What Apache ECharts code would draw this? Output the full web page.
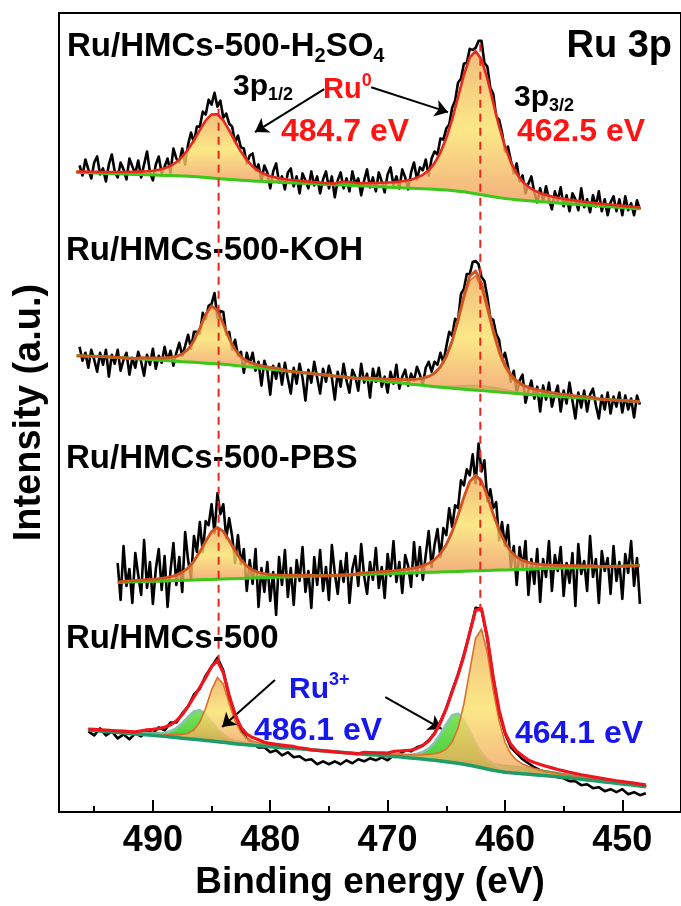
<!DOCTYPE html>
<html>
<head>
<meta charset="utf-8">
<script src="https://cdn.jsdelivr.net/npm/echarts@6/dist/echarts.min.js"></script>
<style>
  html, body { margin: 0; padding: 0; background: #fff; }
  #chart { width: 681px; height: 906px; }
</style>
</head>
<body>
<div id="chart"></div>
<script>
// ---------------- Ru 3p XPS spectra (binding energy in eV, intensity in a.u.) ----------------
const FIT_STEP = 0.5;    // eV spacing of fitted curves
const RAW_STEP = 0.25;   // eV spacing of measured points
const tickValues = [490, 480, 470, 460, 450];
const minorTickValues = [495, 485, 475, 465, 455];
const sampleNames = ['Ru/HMCs-500-H2SO4', 'Ru/HMCs-500-KOH', 'Ru/HMCs-500-PBS', 'Ru/HMCs-500'];
const stackOffsets = [600, 400, 200, 0];   // vertical shift of each stacked spectrum

// ---- Ru/HMCs-500-H2SO4 ----
const h2so4RawFrom = 496.25;
const h2so4Raw = [49,39,55,45,36,52,58,40,46,33,50,60,43,37,52,45,35,56,48,41,
  54,37,50,63,42,34,50,58,41,48,56,42,66,56,52,66,50,70,82,72,
  88,88,103,100,115,110,122,108,114,97,101,91,88,72,79,67,66,51,59,61,
  44,50,34,49,42,26,43,51,32,38,25,42,46,28,38,21,41,34,26,43,
  29,38,21,35,43,26,38,17,34,42,26,36,23,43,30,36,19,34,45,27,
  37,23,42,33,22,40,47,29,38,26,45,37,25,42,52,35,47,44,55,39,
  56,63,60,76,75,86,90,107,114,132,136,151,152,166,165,167,174,174,152,148,
  127,121,98,95,82,63,68,54,41,51,33,39,21,31,38,22,12,26,13,28,
  15,5,23,14,27,8,19,3,21,15,4,26,7,15,2,19,8,23,3,15,
  -1,12,18,3,15,-1,18,4,11,-1,14,5];
const h2so4BgFrom = 496.5;
const h2so4Bg = [42,41.8,41.6,41.4,41.2,41,40.8,40.6,40.4,40.2,40,39.8,39.6,39.4,39.2,39,38.8,38.6,
  38.4,38.1,37.8,37.4,37,36.5,36,35.5,35,34.6,34.2,33.8,33.4,33.1,
  32.8,32.5,32.3,32,31.7,31.5,31.2,30.9,30.7,30.4,30.1,29.9,29.6,29.3,29.1,28.8,28.5,28.3,28,27.7,27.5,27.2,26.9,26.7,26.4,26.1,25.9,25.6,25.3,25.1,
  24.7,24.3,23.8,23.2,22.5,21.6,20.6,19.6,18.6,17.6,16.7,15.9,15.2,14.6,
  14.1,13.6,13.1,12.6,12.2,11.7,11.3,10.8,10.4,10,9.5,9.1,8.7,8.3,7.9,7.5,7.1,6.7,6.3,5.9,5.5];
const h2so4Ru0p12From = 496.5;
const h2so4Ru0p12 = [0.9,1.0,1.1,1.2,1.3,1.4,1.6,1.8,2.0,2.3,2.6,3.0,3.5,4.3,5.4,7.1,9.8,13.7,19.4,27,
  36.5,47.1,57.2,63.7,64.4,58.8,49.2,38.6,28.7,20.7,14.6,10.4,7.5,5.7,4.5,3.6,3.1,2.7,2.3,2.1,
  1.8,1.6,1.4,1.3,1.2,1.1,1.0,0.9];
const h2so4Ru0p32From = 474;
const h2so4Ru0p32 = [2.1,2.3,2.4,2.7,3.0,3.3,3.7,4.1,4.7,5.3,6.1,7.2,8.6,10.9,14,18.7,26.2,37.2,52.2,71.5,
  94.4,117.3,135.9,143,135.9,117.3,94.4,71.5,52.2,37.2,26.2,18.7,14,10.9,8.6,7.2,6.1,5.3,4.7,4.1,
  3.7,3.3,3.0,2.7,2.4,2.3,2.1,1.9,1.7,1.6,1.4,1.4];

// ---- Ru/HMCs-500-KOH ----
const kohRawFrom = 496.25;
const kohRaw = [67,53,61,46,64,54,42,61,49,64,37,59,50,64,43,54,61,39,56,46,
  62,52,38,59,49,65,45,58,51,67,53,63,48,61,71,58,68,79,65,82,
  82,80,101,95,108,110,121,96,103,102,79,82,64,74,58,62,41,61,50,61,
  43,52,28,53,43,19,48,35,50,29,51,35,20,46,30,50,36,13,44,31,
  52,36,20,45,32,48,36,14,42,27,50,33,21,44,37,23,50,31,40,16,
  45,32,46,27,37,21,42,30,49,25,37,44,28,40,33,47,39,29,46,52,
  42,52,49,61,51,67,82,78,95,93,120,125,140,140,152,153,150,137,133,117,
  96,94,80,74,53,61,48,32,43,21,33,39,11,23,33,15,27,2,28,14,
  31,7,19,28,2,23,10,31,13,-5,21,6,23,2,19,25,8,-5,18,4,
  21,0,17,7,21,1,18,4,15,-4,18,9];
const kohBgFrom = 496.5;
const kohBg = [58,57.8,57.6,57.4,57.2,57,56.6,56.3,55.9,55.5,55.1,54.8,54.4,54,53.6,53.3,52.9,52.5,52.1,51.8,
  51.4,51,50.6,50.3,49.9,49.5,48.9,48.3,47.6,47,46.4,45.8,45.1,44.5,43.9,43.3,42.6,42,41.4,40.8,
  40.1,39.5,38.9,38.3,37.6,37,36.4,35.8,35.1,34.5,33.9,33.3,32.6,32,31.4,30.8,30.1,29.5,28.9,28.3,
  27.6,27,26.5,26,25.5,25,24.5,24,23.5,23,22.5,22,21.5,21,20.5,20,19.5,19,18.6,18.3,
  17.9,17.5,17.1,16.8,16.4,16,15.6,15.3,14.9,14.5,14.1,13.8,13.4,13,12.7,12.3,12];
const kohRu0p12From = 491;
const kohRu0p12 = [1.3,1.5,1.8,2.1,2.7,3.5,4.9,7.6,12.8,21.7,34.6,49,57.7,53.7,40.4,26.4,15.8,9.3,5.8,3.9,2.9,2.3,1.9,1.6,1.3];
const kohRu0p32From = 472;
const kohRu0p32 = [1.5,1.7,1.9,2.2,2.5,2.9,3.4,3.9,4.6,5.6,6.9,9.2,12.9,19.4,29.9,45.5,66.4,90,109.4,114.8,
  102.7,80.6,57.6,38.6,25,16.3,11.1,8.2,6.3,5.2,4.4,3.6,3.3,2.8,2.4,2.1,1.8,1.6,1.4,1.3];
const kohRu3From = 467;
const kohRu3 = [0.4,0.5,0.8,1.1,1.5,2.1,2.8,3.6,4.3,4.8,5,4.9,4.5,3.8,3.1,2.4,1.8,1.3,1,0.7,0.5,0.4,0.3];

// ---- Ru/HMCs-500-PBS ----
const pbsRawFrom = 493;
const pbsRaw = [50,13,67,27,44,10,60,38,18,73,25,51,9,44,64,23,57,6,42,70,
  28,56,21,81,53,35,77,61,91,61,92,88,109,80,120,99,109,75,95,77,
  50,78,49,64,22,53,29,64,6,45,21,51,12,41,-2,56,28,63,16,45,
  8,53,32,66,21,42,5,56,28,63,22,46,13,68,40,19,52,31,60,10,
  44,57,27,69,37,19,51,33,65,25,46,15,59,37,72,31,51,20,58,47,
  26,71,37,66,33,58,82,46,68,84,56,85,78,105,86,108,105,133,128,144,
  138,159,130,170,142,153,112,124,105,111,73,91,67,88,46,67,28,66,44,72,
  18,54,29,64,11,54,36,72,22,58,42,66,17,50,30,60,7,69,39,52,
  22,77,36,54,10,62,42,55,19,67,32,51,14,59,40,72,27,55,9];
const pbsBgFrom = 493;
const pbsBg = [30.5,30.7,30.9,31.1,31.3,31.5,31.6,31.8,32,32.2,32.4,32.6,32.8,33,33.2,33.4,33.5,33.7,33.9,34.1,
  34.3,34.5,34.7,34.9,35.1,35.3,35.4,35.6,35.8,36,36.2,36.4,36.6,36.8,37,37.2,37.3,37.5,37.7,37.9,
  38.1,38.3,38.5,38.7,38.9,39.1,39.2,39.4,39.6,39.8,40,40.2,40.4,40.6,40.8,41,41.1,41.3,41.5,41.7,
  41.9,42.1,42.3,42.5,42.7,42.9,43,43.2,43.4,43.6,43.8,44,44.2,44.4,44.6,44.8,44.9,45.1,45.3,45.5,
  45.7,45.9,46.1,46.3,46.5,46.7,46.8,47,47.2,47.4];
const pbsRu0p12From = 492.5;
const pbsRu0p12 = [1,1.1,1.3,1.5,1.7,2,2.4,3,4,5.5,8.1,12.3,18.9,28,38.5,47.9,52,47.9,38.5,28,18.9,12.3,8.1,5.5,4,3,2.4,2,1.7,1.5,1.3,1.1,1];
const pbsRu0p32From = 472.5;
const pbsRu0p32 = [1.4,1.5,1.7,2,2.2,2.5,2.8,3.3,3.7,4.4,5.4,6.8,9,12.6,18.4,27.5,40.2,56.4,74.4,89.8,
  96,89.8,74.4,56.4,40.2,27.5,18.4,12.6,9,6.8,5.4,4.4,3.7,3.3,2.8,2.5,2.2,2,1.7,1.5,1.4];

// ---- Ru/HMCs-500 (sampled every 0.5 eV) ----
const baseRawFrom = 495.5;
const baseRaw = [81,77,84,77,81,74,78,73,79,76,82,79,85,82,90,90,99,106,118,124,
  137,146,155,142,115,99,82,74,69,65,65,60,62,57,60,55,56,52,53,48,
  51,48,51,48,52,49,53,51,54,52,55,52,57,58,62,61,65,67,72,79,
  91,104,122,138,158,180,205,204,174,135,100,79,65,59,53,49,45,42,39,38,
  35,34,31,31,27,28,24,25,21,23,20,23,18,20,17,19];
const baseBgFrom = 495.5;
const baseBg = [82.5,82,81.5,81,80.5,80,79.5,79,78.5,78,77.5,77,76.5,76,75.4,74.8,74.2,73.6,73,72.5,
  71.9,71.3,70.6,70,69.3,68.6,68,67.5,67,66.5,66,65.5,65.1,64.7,64.3,63.9,63.5,63,62.5,62,
  61.5,61,60.5,60,59.5,59,58.5,58,57.6,57.2,56.8,56.3,55.9,55.5,54.9,54.3,53.7,53.2,52.6,52,
  51.3,50.5,49.8,49,48,47,45.8,44.5,43.2,42,41,40,39.5,39,38.5,38,37.5,37,36.5,36,
  35.5,34.9,34.2,33.6,32.9,32.3,31.6,31,30.3,29.6,28.9,28.3,27.6,26.9,26.2,25.5];
const baseSat1From = 495.5;
const baseSat1 = [0.9,1,1.1,1.2,1.3,1.5,1.7,1.9,2.1,2.4,2.75,3.05,3.45,3.8,4.2,4.5,4.75,4.95,5,4.95,
  4.75,4.5,4.2,3.8,3.45,3.05,2.75,2.4,2.1,1.9,1.7,1.5,1.3,1.2,1.1,1,0.9,0.8];
const baseSat2From = 472;
const baseSat2 = [0.85,0.9,1,1.1,1.2,1.3,1.4,1.5,1.65,1.8,2,2.2,2.45,2.7,3.05,3.4,3.8,4.2,4.65,5.1,
  5.55,6,6.35,6.7,6.9,7,6.9,6.7,6.35,6,5.55,5.1,4.65,4.2,3.8,3.4,3.05,2.7,2.45,2.2,
  2,1.8,1.65,1.5,1.4,1.3,1.2,1.1,1];
const baseRu3p12From = 491;
const baseRu3p12 = [1.1,1.4,1.7,2.4,3.6,5.8,9.5,15,21.9,28,29.9,25.9,19,12.6,7.8,4.7,3.1,2.1,1.6,1.3,1.1];
const baseRu3p32From = 469.5;
const baseRu3p32 = [1.8,2.2,2.7,3.3,4.8,7.2,11.3,17.8,27,37.9,47.2,49.8,44,33.5,23,14.9,9.4,6.1,4.2,3,2.5,2,1.7];
const baseRu0p12From = 490.5;
const baseRu0p12 = [1,1.2,1.4,1.8,2.2,2.8,3.8,5.6,9.6,17.9,32.5,51.4,64.5,58.4,39.9,22.9,12.3,6.8,4.4,3.1,2.4,1.9,1.6,1.3,1.1,1];
const baseRu0p32From = 472;
const baseRu0p32 = [1.1,1.2,1.35,1.5,1.7,1.9,2.2,2.5,3.1,3.6,4.4,5.2,6.6,8.8,12.6,20.4,35.3,60.5,95.1,128.8,
  139,116.7,80.4,50.5,30.1,19,13.1,9.7,7.8,6.3,5.3,4.4,3.7,3.1,2.7,2.4,2.1,1.9,1.7,1.5,
  1.4,1.3,1.2,1.1,1,0.95,0.9,0.85,0.8];

// ---- peak markers and annotation arrows (binding energy, stacked intensity) ----
const guideEnergies = [484.4, 462.1];
const guideLow = [150, 201];
const guideHigh = [710, 775];
const arrowFrom = [[475.4, 725.5], [471.4, 727.5], [479.6, 132.5], [470.2, 115.5]];
const arrowTo = [[481.3, 682.5], [464.85, 702.5], [484.1, 85.5], [465.4, 83.5]];

// ---------------- styling and option building ----------------
const FONT = "'Liberation Sans', Arial, Helvetica, sans-serif";
const grad = (stops) => new echarts.graphic.LinearGradient(0, 0, 0, 1,
  stops.map((c, i) => ({ offset: i / (stops.length - 1), color: c })));
const ru0Style = () => ({
  fill: grad(['rgba(238,170,90,0.8)', 'rgba(250,226,105,0.8)', 'rgba(240,150,92,0.8)']),
  stroke: '#dc7028', lineWidth: 1.6
});
const ru3Style = () => ({
  fill: grad(['rgba(120,226,80,0.92)', 'rgba(40,196,36,0.92)']),
  stroke: '#86c4b2', lineWidth: 2.6
});
const satStyle = () => ({
  fill: grad(['rgba(66,208,50,0.82)', 'rgba(30,176,52,0.82)']),
  stroke: '#3aa86a', lineWidth: 1.2
});

const key = (e) => Math.round(e * 100);
const energyAt = (from, step, i) => Math.round((from - i * step) * 100) / 100;
const RAW_WIDTH = 2.6;

function lineSeries(points, color, width, z) {
  return {
    type: 'line', data: points, xAxisIndex: 0, yAxisIndex: 0,
    showSymbol: false, symbol: 'none', silent: true, animation: false, z: z,
    lineStyle: { color: color, width: width, join: 'round' }
  };
}

function polySeries(points, style, z) {
  return {
    type: 'custom', coordinateSystem: 'cartesian2d', xAxisIndex: 0, yAxisIndex: 0,
    silent: true, animation: false, z: z, data: [points[0]],
    renderItem: (params, api) => ({
      type: 'polygon',
      shape: { points: points.map(p => api.coord(p)) },
      style: { fill: style.fill, stroke: style.stroke, lineWidth: style.lineWidth }
    })
  };
}

function spectrumSeries(s) {
  const bgMap = new Map();
  s.bg.forEach((v, i) => bgMap.set(key(energyAt(s.bgFrom, FIT_STEP, i)), v));
  const envMap = new Map(bgMap);
  s.comps.forEach(c => c.vals.forEach((v, i) => {
    const k = key(energyAt(c.from, FIT_STEP, i));
    envMap.set(k, envMap.get(k) + v);
  }));
  const out = [];
  out.push(lineSeries(s.raw.map((v, i) => [energyAt(s.rawFrom, s.rawStep, i), v + s.offset]), '#000', RAW_WIDTH, 2));
  s.comps.forEach(c => {
    const top = [], bottom = [];
    c.vals.forEach((v, i) => {
      const e = energyAt(c.from, FIT_STEP, i);
      const b = bgMap.get(key(e));
      top.push([e, b + v + s.offset]);
      bottom.push([e, b + s.offset]);
    });
    out.push(polySeries(top.concat(bottom.reverse()), c.style, 3));
  });
  out.push(lineSeries(s.bg.map((v, i) => [energyAt(s.bgFrom, FIT_STEP, i), v + s.offset]), s.bgColor, s.bgWidth, 5));
  out.push(lineSeries(s.bg.map((v, i) => {
    const e = energyAt(s.bgFrom, FIT_STEP, i);
    return [e, envMap.get(key(e)) + s.offset];
  }), s.envColor, s.envWidth, 6));
  return out;
}

const spectra = [
  { offset: stackOffsets[0], raw: h2so4Raw, rawFrom: h2so4RawFrom, rawStep: RAW_STEP, bg: h2so4Bg, bgFrom: h2so4BgFrom,
    bgColor: '#3cc81a', bgWidth: 3, envColor: '#e8281c', envWidth: 2.6,
    comps: [
      { from: h2so4Ru0p12From, vals: h2so4Ru0p12, style: ru0Style() },
      { from: h2so4Ru0p32From, vals: h2so4Ru0p32, style: ru0Style() }
    ] },
  { offset: stackOffsets[1], raw: kohRaw, rawFrom: kohRawFrom, rawStep: RAW_STEP, bg: kohBg, bgFrom: kohBgFrom,
    bgColor: '#3cc81a', bgWidth: 3, envColor: '#cf5520', envWidth: 2.8,
    comps: [
      { from: kohRu3From, vals: kohRu3, style: satStyle() },
      { from: kohRu0p12From, vals: kohRu0p12, style: ru0Style() },
      { from: kohRu0p32From, vals: kohRu0p32, style: ru0Style() }
    ] },
  { offset: stackOffsets[2], raw: pbsRaw, rawFrom: pbsRawFrom, rawStep: RAW_STEP, bg: pbsBg, bgFrom: pbsBgFrom,
    bgColor: '#3cc81a', bgWidth: 3, envColor: '#d4501c', envWidth: 2.8,
    comps: [
      { from: pbsRu0p12From, vals: pbsRu0p12, style: ru0Style() },
      { from: pbsRu0p32From, vals: pbsRu0p32, style: ru0Style() }
    ] },
  { offset: stackOffsets[3], raw: baseRaw, rawFrom: baseRawFrom, rawStep: FIT_STEP, bg: baseBg, bgFrom: baseBgFrom,
    bgColor: '#1f9c68', bgWidth: 3.5, envColor: '#f0141e', envWidth: 3.2,
    comps: [
      { from: baseSat1From, vals: baseSat1, style: satStyle() },
      { from: baseSat2From, vals: baseSat2, style: satStyle() },
      { from: baseRu3p12From, vals: baseRu3p12, style: ru3Style() },
      { from: baseRu3p32From, vals: baseRu3p32, style: ru3Style() },
      { from: baseRu0p12From, vals: baseRu0p12, style: ru0Style() },
      { from: baseRu0p32From, vals: baseRu0p32, style: ru0Style() }
    ] }
];

let series = [];
spectra.forEach(s => { series = series.concat(spectrumSeries(s)); });

// dashed guides through the Ru0 peak positions, with the annotation arrows
guideEnergies.forEach((e, i) => {
  const ser = lineSeries([[e, guideLow[i]], [e, guideHigh[i]]], '#e8261c', 2, 8);
  ser.lineStyle.type = [8, 6];
  if (i === 0) {
    ser.markLine = {
      silent: true, animation: false, symbol: ['none', 'arrow'], symbolSize: 13,
      label: { show: false }, emphasis: { disabled: true },
      lineStyle: { color: '#000', width: 2, type: 'solid' },
      data: arrowFrom.map((a, j) => [{ coord: a }, { coord: arrowTo[j] }])
    };
  }
  series.push(ser);
});

// text annotations: rich text placed by baseline
function label(x, baseline, text, size, color, align, rich) {
  const lh = Math.round(size * 1.2);
  const r = { m: { fontSize: size, fontWeight: 'bold', fontFamily: FONT, fill: color, lineHeight: lh } };
  Object.assign(r, rich || {});
  return {
    type: 'text', z: 7, silent: true,
    style: {
      x: x, y: baseline - (lh / 2 + 0.35 * size), text: text, align: align || 'left',
      verticalAlign: 'top', rich: r, fontSize: size, fontWeight: 'bold', fontFamily: FONT, fill: color
    }
  };
}
const sub = (size, color) => ({ fontSize: size, fontWeight: 'bold', fontFamily: FONT, fill: color, lineHeight: Math.round(size * 0.7), verticalAlign: 'bottom' });
const sup = (size, color) => ({ fontSize: size, fontWeight: 'bold', fontFamily: FONT, fill: color, lineHeight: size, verticalAlign: 'top' });

const RED = '#ff1414', BLUE = '#1616ee', BLK = '#000';
const graphics = [
  label(67, 58, '{m|Ru/HMCs-500-H}{s|2}{m|SO}{s|4}', 33, BLK, 'left', { s: sub(20, BLK) }),
  label(672, 60, '{m|Ru 3p}', 38, BLK, 'right'),
  label(233, 97, '{m|3p}{s|1/2}', 30, BLK, 'left', { s: sub(18, BLK) }),
  label(323, 100, '{m|Ru}{p|0}', 29, RED, 'left', { p: sup(18, RED) }),
  label(281, 143, '{m|484.7 eV}', 32, RED),
  label(514, 108, '{m|3p}{s|3/2}', 30, BLK, 'left', { s: sub(18, BLK) }),
  label(517, 143, '{m|462.5 eV}', 32, RED),
  label(66, 262, '{m|' + sampleNames[1] + '}', 33, BLK),
  label(66, 470, '{m|' + sampleNames[2] + '}', 33, BLK),
  label(66, 650, '{m|' + sampleNames[3] + '}', 33, BLK),
  label(289, 700, '{m|Ru}{p|3+}', 30, BLUE, 'left', { p: sup(18, BLUE) }),
  label(254, 742, '{m|486.1 eV}', 32, BLUE),
  label(515, 745, '{m|464.1 eV}', 32, BLUE)
];

const chart = echarts.init(document.getElementById('chart'), null, { renderer: 'canvas' });
chart.setOption({
  animation: false,
  backgroundColor: '#fff',
  grid: { left: 59, right: -3, top: 13, bottom: 91, show: true, borderColor: '#000', borderWidth: 2, containLabel: false },
  xAxis: [
    {
      type: 'value', min: 445, max: 498, inverse: true, position: 'bottom',
      name: 'Binding energy (eV)', nameLocation: 'middle', nameGap: 46,
      nameTextStyle: { fontSize: 37, fontWeight: 'bold', fontFamily: FONT, color: '#000' },
      axisLine: { show: true, lineStyle: { color: '#000', width: 2 } },
      axisTick: { show: true, inside: true, length: 12, customValues: tickValues, lineStyle: { color: '#000', width: 2 } },
      axisLabel: { show: true, customValues: tickValues, margin: 11, fontSize: 36, fontWeight: 'bold', fontFamily: FONT, color: '#000' },
      splitLine: { show: false }
    },
    {
      type: 'value', min: 445, max: 498, inverse: true, position: 'bottom', gridIndex: 0,
      axisLine: { show: false },
      axisTick: { show: true, inside: true, length: 6, customValues: minorTickValues, lineStyle: { color: '#000', width: 2 } },
      axisLabel: { show: false }, splitLine: { show: false }
    }
  ],
  yAxis: {
    type: 'value', min: 0, max: 802,
    name: 'Intensity (a.u.)', nameLocation: 'middle', nameGap: 10, nameRotate: 90,
    nameTextStyle: { fontSize: 38, fontWeight: 'bold', fontFamily: FONT, color: '#000' },
    axisLine: { show: false }, axisTick: { show: false }, axisLabel: { show: false }, splitLine: { show: false }
  },
  graphic: graphics,
  series: series
});
</script>
</body>
</html>
